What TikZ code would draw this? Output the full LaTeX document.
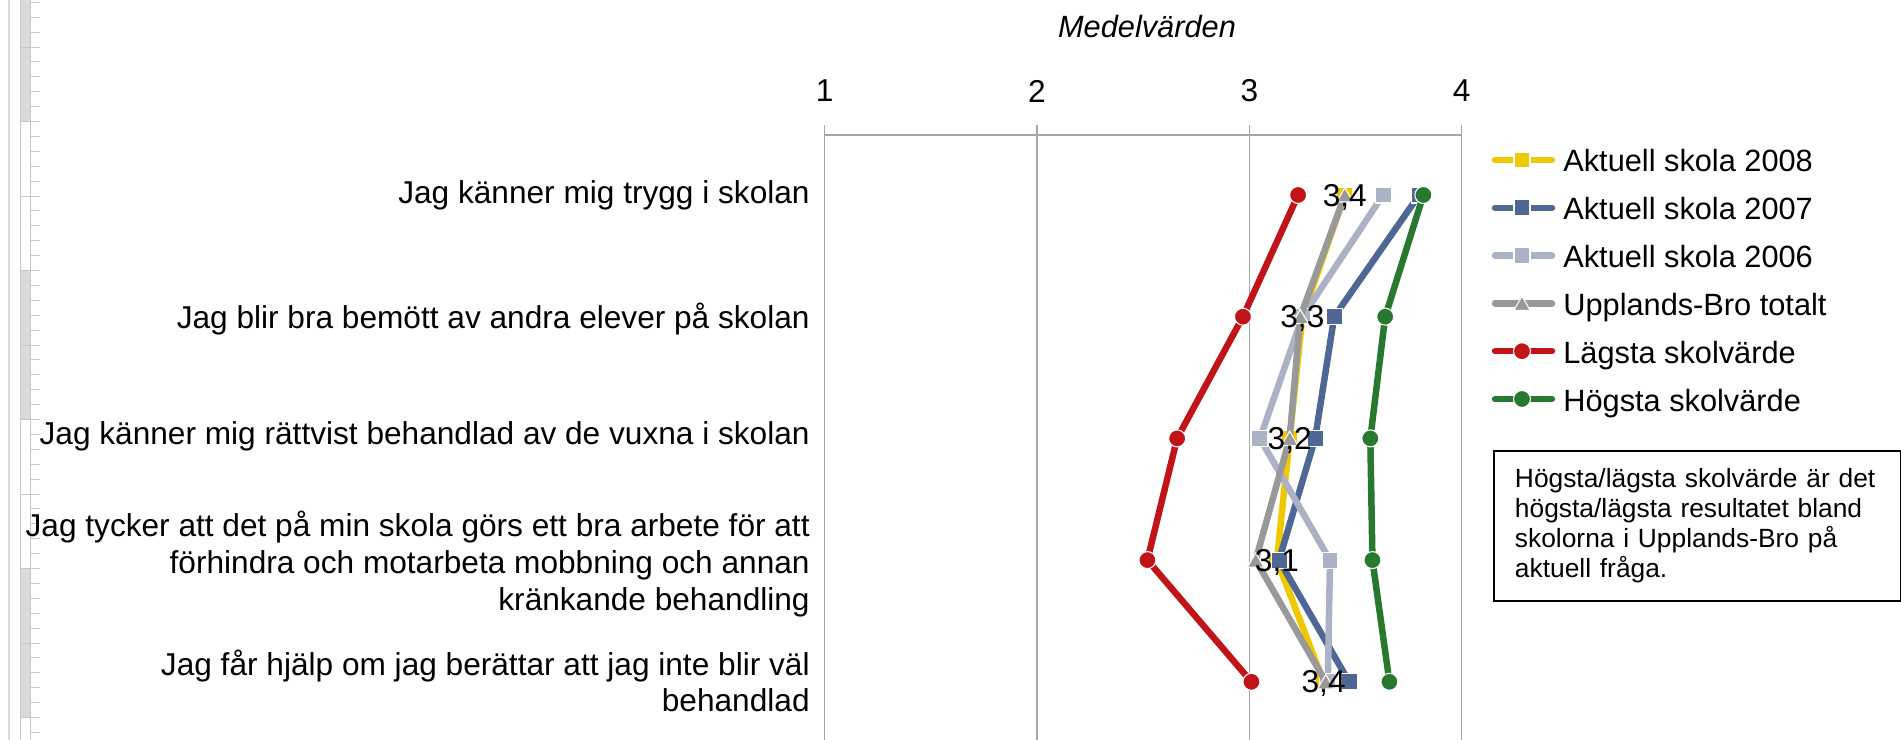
\documentclass[tikz,border=0pt]{standalone}
\usepackage{fontspec}
\setmainfont{Liberation Sans}
\usetikzlibrary{positioning, shapes.geometric}

\definecolor{gul}{RGB}{240,200,0}
\definecolor{bla}{RGB}{78,103,148}
\definecolor{ljus}{RGB}{171,178,198}
\definecolor{gra}{RGB}{153,153,153}
\definecolor{rod}{RGB}{192,20,24}
\definecolor{gron}{RGB}{40,120,48}
\definecolor{rutnat}{RGB}{166,166,166}
\definecolor{linjal}{RGB}{218,218,218}

\tikzset{
  serie/.style={line width=3.7pt, line cap=round, line join=round},
  sqmark/.style={rectangle, draw=white, line width=0.6pt, minimum size=0.32cm, inner sep=0pt},
  dotmark/.style={circle, draw=white, line width=0.6pt, minimum size=0.34cm, inner sep=0pt},
  trimark/.style={regular polygon, regular polygon sides=3, draw=white, line width=0.6pt,
    minimum size=0.38cm, inner sep=0pt, yshift=-0.045cm},
  gridline/.style={rutnat, line width=0.6pt},
  kat/.style={anchor=east, align=right, inner sep=0pt, font=\fontsize{18}{20.8}\selectfont},
  ticklab/.style={inner sep=0pt, font=\fontsize{18}{20}\selectfont},
  datalab/.style={inner sep=0pt, text depth=0pt, font=\fontsize{18}{20}\selectfont},
  legtext/.style={anchor=base west, inner sep=0pt, font=\fontsize{17.5}{20}\selectfont},
  notebox/.style={anchor=north west, draw, line width=1.1pt, minimum width=8.14cm,
    minimum height=3cm, text width=7.3cm, inner xsep=0.4cm, align=left,
    font=\fontsize{15}{17}\selectfont},
  rulertick/.style={linjal!80!gray, line width=0.5pt}
}

\begin{document}
\begin{tikzpicture}[x=0.02cm, y=-0.02cm]
    \useasboundingbox (0,0) rectangle (1901,740);

    % ruler strip at the left edge
    \draw[linjal, line width=1.2pt] (9,0) -- (9,740);
    \fill[linjal] (20,0) rectangle (30,121.5);
    \fill[linjal] (20,270.5) rectangle (30,419.5);
    \fill[linjal] (20,568.5) rectangle (30,717.5);
    \draw[rulertick] (20,0) -- (20,740);
    \draw[rulertick] (30,0) -- (30,740);
    \foreach \k in {0,...,9}
        \draw[rulertick] (20,{47+74.5*\k}) -- (40,{47+74.5*\k});
    \foreach \j in {-3,...,46}
        \draw[rulertick] (30,{47+14.9*\j}) -- (40,{47+14.9*\j});

    % axis and grid
    \node[font=\fontsize{17.5}{20}\selectfont\itshape, inner sep=0pt] (medel) at (1147,27) {Medelvärden};
    \foreach \v in {1,2,3,4} {
        \coordinate (gt\v) at ({612.4+212.3*\v},125);
        \coordinate (ga\v) at ({612.4+212.3*\v},135);
        \coordinate (gb\v) at ({612.4+212.3*\v},740);
        \draw[gridline] (gt\v) -- (gb\v);
        \node[ticklab] (t\v) at ({612.4+212.3*\v},91) {\v};
    }
    \draw[gridline] (ga1) -- (ga4);

    % questions
    \node[kat] (q1) at (810,195) {Jag känner mig trygg i skolan};
    \node[kat] (q2) at (810,319) {Jag blir bra bemött av andra elever på skolan};
    \node[kat] (q3) at (810,436) {Jag känner mig rättvist behandlad av de vuxna i skolan};
    \node[kat] (q4) at (810,564) {Jag tycker att det på min skola görs ett bra arbete för att\\
        förhindra och motarbeta mobbning och annan\\kränkande behandling};
    \node[kat] (q5) at (810,681) {Jag får hjälp om jag berättar att jag inte blir väl\\behandlad};

    % series
    \foreach \s/\col/\mk/\vals in {
        s08/gul/sqmark/{3.45,3.25,3.19,3.13,3.35},
        s07/bla/sqmark/{3.80,3.40,3.31,3.14,3.47},
        s06/ljus/sqmark/{3.63,3.25,3.05,3.38,3.37},
        tot/gra/trimark/{3.45,3.24,3.19,3.03,3.36},
        low/rod/dotmark/{3.23,2.97,2.66,2.52,3.01},
        high/gron/dotmark/{3.82,3.64,3.57,3.58,3.66}} {
        \foreach \v [count=\i] in \vals
            \coordinate (\s-\i) at ({612.4+212.3*\v},{73.3+121.7*\i});
        \draw[serie, \col] (\s-1) -- (\s-2) -- (\s-3) -- (\s-4) -- (\s-5);
        \foreach \i in {1,...,5}
            \node[\mk, fill=\col] (m\s-\i) at (\s-\i) {};
    }

    % data labels
    \foreach \t [count=\i] in {{3,4},{3,3},{3,2},{3,1},{3,4}}
        \node[datalab] (lab-\i) at (s08-\i) {\t};

    % legend
    \foreach \col/\mk/\txt [count=\i] in {
        gul/sqmark/Aktuell skola 2008,
        bla/sqmark/Aktuell skola 2007,
        ljus/sqmark/Aktuell skola 2006,
        gra/trimark/Upplands-Bro totalt,
        rod/dotmark/Lägsta skolvärde,
        gron/dotmark/Högsta skolvärde} {
        \coordinate (la\i) at (1495,{112.2+47.8*\i});
        \coordinate (lb\i) at (1552,{112.2+47.8*\i});
        \draw[serie, \col] (la\i) -- (lb\i);
        \node[\mk, fill=\col] (lm\i) at (1522,{112.2+47.8*\i}) {};
        \node[legtext] (lt\i) at (1563,{124.2+47.8*\i}) {\txt};
    }

    % note
    \node[notebox] (note) at (1493,450) {Högsta/lägsta skolvärde är det\\
        högsta/lägsta resultatet bland\\skolorna i Upplands-Bro på\\aktuell fråga.};

\end{tikzpicture}
\end{document}
